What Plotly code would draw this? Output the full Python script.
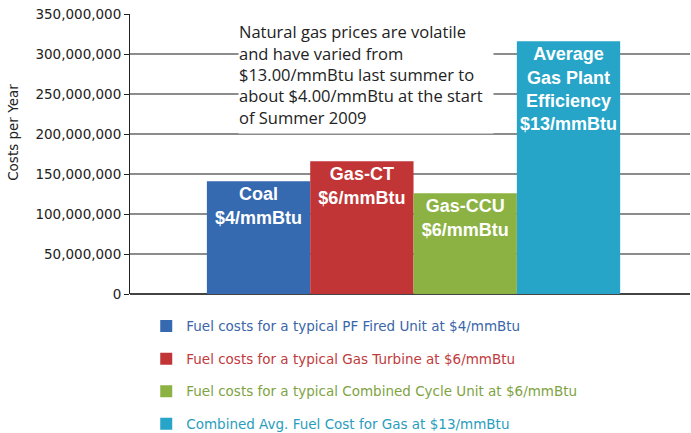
import plotly.graph_objects as go

# ---- data ----
category = [""]
series_names = [
    "Fuel costs for a typical PF Fired Unit at $4/mmBtu",
    "Fuel costs for a typical Gas Turbine at $6/mmBtu",
    "Fuel costs for a typical Combined Cycle Unit at $6/mmBtu",
    "Combined Avg. Fuel Cost for Gas at $13/mmBtu",
]
bar_labels = [
    "Coal<br>$4/mmBtu",
    "Gas-CT<br>$6/mmBtu",
    "Gas-CCU<br>$6/mmBtu",
    "Average<br>Gas Plant<br>Efficiency<br>$13/mmBtu",
]
costs = [141_000_000, 166_000_000, 126_000_000, 316_000_000]
y_ticks = [0, 50_000_000, 100_000_000, 150_000_000, 200_000_000,
           250_000_000, 300_000_000, 350_000_000]
y_tick_labels = ["0", "50,000,000", "100,000,000", "150,000,000", "200,000,000",
                 "250,000,000", "300,000,000", "350,000,000"]
note = ("Natural gas prices are volatile<br>and have varied from<br>"
        "$13.00/mmBtu last summer to<br>about $4.00/mmBtu at the start<br>"
        "of Summer 2009")

# ---- styles ----
bar_colors = ["#3569b0", "#c23536", "#8bb242", "#27a5c8"]
legend_colors = ["#3a66a8", "#bf3b3c", "#7ea33f", "#2a9dbd"]
WIDE = "DejaVu Sans, Verdana, sans-serif"

fig = go.Figure()
for i in range(len(costs)):
    fig.add_trace(go.Bar(
        x=category,
        y=[costs[i]],
        name=f"<span style='color:{legend_colors[i]}'>{series_names[i]}</span>",
        legendgroup=f"g{i}",
        marker=dict(color=bar_colors[i], line=dict(width=0)),
        text=[bar_labels[i]],
        textposition="inside",
        insidetextanchor="end",
        textangle=0,
        constraintext="none",
        insidetextfont=dict(family="Liberation Sans, Arial, sans-serif", size=18, color="white"),
        texttemplate="<b>%{text}</b>",
        hoverinfo="skip",
    ))

fig.update_layout(
    width=691, height=433,
    margin=dict(l=130, r=1, t=14, b=139, autoexpand=False),
    paper_bgcolor="white", plot_bgcolor="white",
    barmode="group", bargap=0.262, bargroupgap=0,
    font=dict(family=WIDE, size=13, color="#222"),
    showlegend=True,
    legend=dict(
        orientation="v", x=0.029, xanchor="left", y=-0.06, yanchor="top",
        font=dict(family=WIDE, size=13.5), tracegroupgap=12, bgcolor="rgba(0,0,0,0)",
        itemclick=False,
    ),
    xaxis=dict(showticklabels=False, showgrid=False, zeroline=False,
               showline=False, ticks="", range=[-0.5063, 0.4937]),
    yaxis=dict(
        range=[0, 350_000_000], tickvals=y_ticks, ticktext=y_tick_labels,
        showgrid=True, gridcolor="#8c8c8c", gridwidth=1.5,
        zeroline=True, zerolinecolor="#444", zerolinewidth=2,
        showline=True, linecolor="#222", linewidth=1,
        ticks="outside", ticklen=5, tickcolor="#222",
        tickfont=dict(family=WIDE, size=13.5, color="#222"),
    ),
    annotations=[
        dict(text="Costs per Year", xref="paper", yref="paper",
             x=-0.209, y=0.579, xanchor="center", yanchor="middle",
             textangle=-90, showarrow=False,
             font=dict(family=WIDE, size=13.5, color="#222")),
        dict(text=note, xref="paper", yref="paper", x=0.193, y=0.996,
             xanchor="left", yanchor="top", align="left", showarrow=False,
             width=254, height=117, valign="middle", bgcolor="white",
             borderpad=0,
             font=dict(family="Open Sans, Lato, sans-serif", size=16.5, color="#222")),
    ],
)

fig.write_html("out.html",
               config={"displayModeBar": False},
               post_script="document.body.style.margin='0';document.body.style.overflow='hidden';")
